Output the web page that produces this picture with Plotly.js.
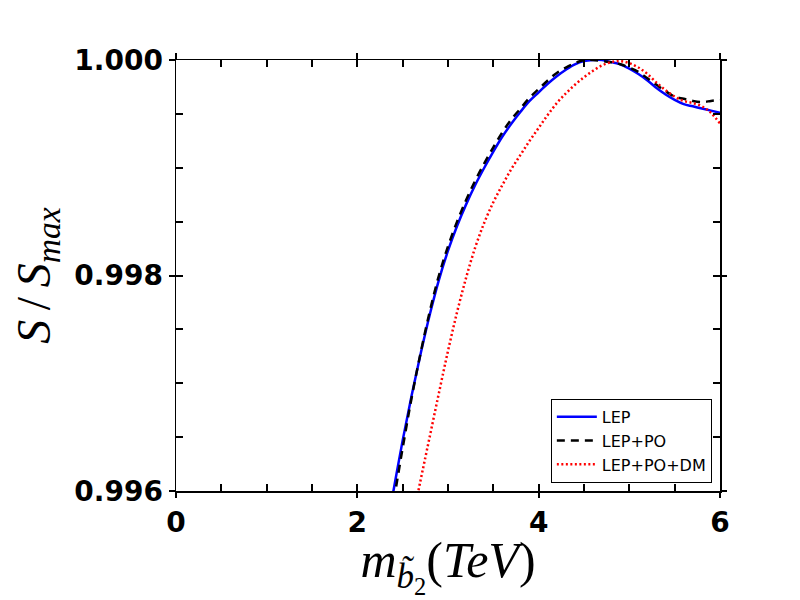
<!DOCTYPE html>
<html>
<head>
<meta charset="utf-8">
<script src="https://cdn.plot.ly/plotly-3.0.1.min.js"></script>
<style>
  html, body { margin: 0; padding: 0; background: #fff; }
  #plotly-chart { width: 800px; height: 600px; }
</style>
</head>
<body>
<div id="plotly-chart"></div>
<script>
// masses in TeV
const massLep = [2.3, 2.4, 2.5, 2.6, 2.7, 2.8, 2.9, 3.0, 3.1, 3.2, 3.3, 3.4, 3.5, 3.6, 3.7, 3.8, 3.9,
                 4.0, 4.1, 4.2, 4.3, 4.4, 4.5, 4.6, 4.7, 4.8, 4.9, 5.0, 5.1, 5.2, 5.3, 5.4, 5.5, 5.6,
                 5.7, 5.8, 5.9, 6.0];
const massDm = [2.5, 2.6, 2.7, 2.8, 2.9, 3.0, 3.1, 3.2, 3.3, 3.4, 3.5, 3.6, 3.7, 3.8, 3.9,
                4.0, 4.1, 4.2, 4.3, 4.4, 4.5, 4.6, 4.7, 4.8, 4.9, 5.0, 5.1, 5.2, 5.3, 5.4, 5.5, 5.6,
                5.7, 5.8, 5.9, 6.0];

const ratioLep = [0.99555, 0.99601, 0.99647, 0.99689, 0.99728, 0.99764, 0.99796, 0.99823, 0.99846,
                  0.99866, 0.99884, 0.99900, 0.99915, 0.99929, 0.99941, 0.99952, 0.99962, 0.99970,
                  0.99978, 0.99985, 0.99991, 0.99996, 0.99999, 1.00000, 1.00000, 0.99998, 0.99996,
                  0.99992, 0.99987, 0.99981, 0.99974, 0.99968, 0.99963, 0.99959, 0.99957, 0.99955,
                  0.99953, 0.99951];
const ratioLepPo = [0.99540, 0.99590, 0.99640, 0.99687, 0.99729, 0.99767, 0.99800, 0.99827, 0.99850,
                    0.99870, 0.99888, 0.99904, 0.99919, 0.99933, 0.99945, 0.99955, 0.99965, 0.99973,
                    0.99981, 0.99988, 0.99993, 0.99997, 1.00000, 1.00000, 0.99999, 0.99998, 0.99996,
                    0.99993, 0.99989, 0.99983, 0.99977, 0.99971, 0.99966, 0.99964, 0.99962, 0.99961,
                    0.99962, 0.99963];
const ratioLepPoDm = [0.99527, 0.99570, 0.99611, 0.99651, 0.99691, 0.99730, 0.99766, 0.99798, 0.99826,
                      0.99849, 0.99868, 0.99884, 0.99899, 0.99912, 0.99925, 0.99937, 0.99949, 0.99960,
                      0.99969, 0.99977, 0.99984, 0.99990, 0.99995, 0.99998, 0.99999, 0.99997, 0.99993,
                      0.99987, 0.99979, 0.99972, 0.99966, 0.99962, 0.99960, 0.99957, 0.99951, 0.99941];

const tickFont = {family: 'DejaVu Sans', size: 28, weight: 'bold', color: 'black'};

const data = [
    {
        x: massLep, y: ratioLep,
        type: 'scatter', mode: 'lines', name: 'LEP',
        line: {color: 'blue', width: 2.5, shape: 'spline'},
    },
    {
        x: massLep, y: ratioLepPo,
        type: 'scatter', mode: 'lines', name: 'LEP+PO',
        line: {color: 'black', width: 2.5, dash: '8px,6px', shape: 'spline'},
    },
    {
        x: massDm, y: ratioLepPoDm,
        type: 'scatter', mode: 'lines', name: 'LEP+PO+DM',
        line: {color: 'red', width: 2.5, dash: '2px,2.5px', shape: 'spline'},
    },
    // empty traces so the overlay axes (outward half of the major ticks) get drawn
    {x: [null], y: [null], xaxis: 'x2', yaxis: 'y', showlegend: false, hoverinfo: 'skip'},
    {x: [null], y: [null], xaxis: 'x', yaxis: 'y2', showlegend: false, hoverinfo: 'skip'},
];

const layout = {
    width: 800,
    height: 600,
    paper_bgcolor: 'white',
    plot_bgcolor: 'white',
    margin: {t: 60, r: 80, b: 109, l: 176},
    showlegend: true,

    // labelled axes: inward ticks every 0.5 TeV / 0.0005, labels only on the majors
    xaxis: {
        range: [0, 6],
        tickmode: 'linear', tick0: 0, dtick: 2,
        ticks: 'inside', ticklen: 7, tickwidth: 2, tickcolor: 'black',
        minor: {dtick: 0.5, tick0: 0, ticks: 'inside', ticklen: 7, tickwidth: 2, tickcolor: 'black'},
        showline: true, linecolor: 'black', linewidth: 1.5, mirror: 'allticks',
        showgrid: false, zeroline: false,
        tickfont: tickFont,
        ticklabelstandoff: 6,
        title: {
            text: '<i>m</i><sub><i>b̃</i><sub>2</sub></sub>(<i>TeV</i>)',
            font: {family: 'Liberation Serif', size: 50, color: 'black'},
            standoff: 5,
        },
    },
    yaxis: {
        range: [0.996, 1.000],
        tickmode: 'linear', tick0: 0.996, dtick: 0.002,
        tickformat: '.3f',
        ticks: 'inside', ticklen: 7, tickwidth: 2, tickcolor: 'black',
        minor: {dtick: 0.0005, tick0: 0.996, ticks: 'inside', ticklen: 7, tickwidth: 2, tickcolor: 'black'},
        showline: true, linecolor: 'black', linewidth: 1.5, mirror: 'allticks',
        showgrid: false, zeroline: false,
        tickfont: tickFont,
        ticklabelstandoff: 6,
        title: {
            text: '<i>S</i>\u2009/\u2009<i>S</i><sub><i>max</i></sub>',
            font: {family: 'Liberation Serif', size: 48, color: 'black'},
            standoff: 8,
        },
    },
    // overlay axes: outward half of the major ticks
    xaxis2: {
        overlaying: 'x', anchor: 'y', side: 'bottom',
        range: [0, 6],
        tickmode: 'linear', tick0: 0, dtick: 2,
        ticks: 'outside', ticklen: 6, tickwidth: 2, tickcolor: 'black',
        showticklabels: false, showline: false, mirror: 'allticks',
        showgrid: false, zeroline: false,
    },
    yaxis2: {
        overlaying: 'y', anchor: 'x', side: 'left',
        range: [0.996, 1.000],
        tickmode: 'linear', tick0: 0.996, dtick: 0.002,
        ticks: 'outside', ticklen: 6, tickwidth: 2, tickcolor: 'black',
        showticklabels: false, showline: false, mirror: 'allticks',
        showgrid: false, zeroline: false,
    },

    legend: {
        x: 0.985, xanchor: 'right',
        y: 0.019, yanchor: 'bottom',
        bgcolor: 'white',
        bordercolor: 'black', borderwidth: 1,
        font: {family: 'DejaVu Sans', size: 16, color: 'black'},
        itemwidth: 40,
    },
};

const config = {
    responsive: false,
    displayModeBar: false,
    displaylogo: false,
    staticPlot: true,
};

Plotly.newPlot('plotly-chart', data, layout, config);
</script>
</body>
</html>
